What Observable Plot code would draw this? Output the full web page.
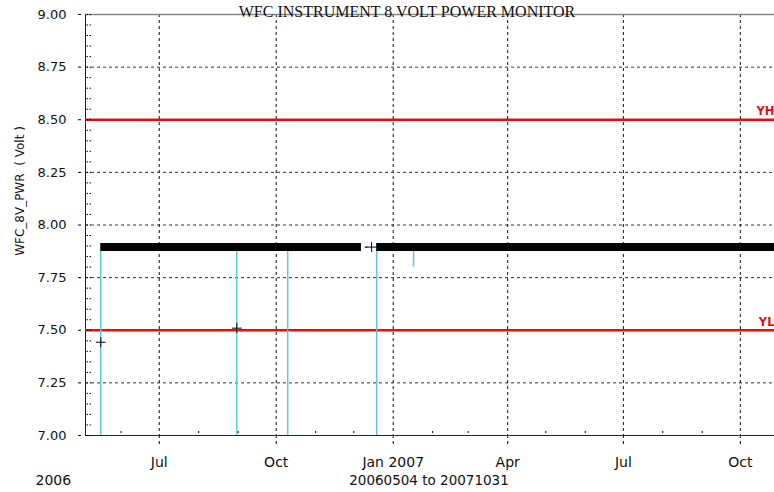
<!DOCTYPE html>
<html>
<head>
<meta charset="utf-8">
<script src="https://cdn.jsdelivr.net/npm/d3@7"></script>
<script src="https://cdn.jsdelivr.net/npm/@observablehq/plot@0.6"></script>
<style>
  html, body { margin: 0; padding: 0; background: #fff; overflow: hidden; }
  #chart svg { display: block; max-width: none !important; }
</style>
</head>
<body>
<div id="chart"></div>
<script>
// WFC 8 V power monitor, 2006-05-04 to 2007-10-31
const title = "WFC INSTRUMENT 8 VOLT POWER MONITOR";
const yLabel = "WFC_8V_PWR  ( Volt )";
const rangeLabel = "20060504 to 20071031";
const startYear = "2006";
const xStart = new Date(Date.UTC(2006, 4, 4));
const xEnd = new Date(Date.UTC(2007, 9, 31));

// axis ticks
const yTicks = [7.00, 7.25, 7.50, 7.75, 8.00, 8.25, 8.50, 8.75, 9.00];
const yGrid = [7.25, 7.75, 8.00, 8.25, 8.75];
const monthTicks = ["2006-07-01", "2006-10-01", "2007-01-01", "2007-04-01", "2007-07-01", "2007-10-01"];
const monthLabels = ["Jul", "Oct", "Jan 2007", "Apr", "Jul", "Oct"];
const minorMonths = ["2006-06-01", "2006-08-01", "2006-09-01", "2006-11-01", "2006-12-01",
  "2007-02-01", "2007-03-01", "2007-05-01", "2007-06-01", "2007-08-01", "2007-09-01"];

// yellow limits
const limitNames = ["YH", "YL"];
const limitValues = [8.50, 7.50];

// continuous readings (dense daily samples near 7.9 V)
const segStart = ["2006-05-16", "2006-12-19"];
const segEnd = ["2006-12-07", "2007-10-31"];
const segValue = [7.895, 7.895];
const stubStart = ["2006-12-10"];
const stubEnd = ["2006-12-12"];
const stubValue = [7.895];

// dropouts
const dropDates = ["2006-05-16", "2006-08-31", "2006-10-10", "2006-12-19", "2007-01-17"];
const dropLow = [7.00, 7.00, 7.00, 7.00, 7.80];
const dropHigh = [7.88, 7.88, 7.88, 7.88, 7.88];

// isolated readings
const pointDates = ["2006-05-16", "2006-08-31", "2006-12-15"];
const pointValues = [7.443, 7.51, 7.895];

const d = (s) => new Date(s + "T00:00:00Z");
const majors = monthTicks.map(d);
const labelOf = new Map(majors.map((t, i) => [+t, monthLabels[i]]));
const limits = limitNames.map((name, i) => ({name, value: limitValues[i]}));
const segments = segStart.map((s, i) => ({start: d(s), end: d(segEnd[i]), value: segValue[i]}));
const stubs = stubStart.map((s, i) => ({start: d(s), end: d(stubEnd[i]), value: stubValue[i]}));
const drops = dropDates.map((s, i) => ({date: d(s), low: dropLow[i], high: dropHigh[i]}));
const points = pointDates.map((s, i) => ({date: d(s), value: pointValues[i]}));
const minorY = d3.range(7, 9.001, 0.05);

const red = "#e01010";
const cyan = "#5ec6e4";

const chart = Plot.plot({
  width: 779,
  height: 492,
  marginTop: 14,
  marginBottom: 57,
  marginLeft: 85,
  marginRight: 1,
  style: {fontFamily: "'DejaVu Sans', sans-serif", background: "#fff", overflow: "visible", maxWidth: "none"},
  x: {type: "utc", domain: [xStart, xEnd]},
  y: {domain: [7, 9]},
  marks: [
    // grid
    Plot.gridY(yGrid, {stroke: "#333", strokeOpacity: 1, strokeDasharray: "3,3"}),
    Plot.gridX(majors, {stroke: "#111", strokeOpacity: 1, strokeDasharray: "3,3"}),
    // frame
    Plot.ruleY([9], {stroke: "#888", strokeWidth: 1.5}),
    Plot.ruleY([7], {stroke: "#222", strokeWidth: 1}),
    Plot.ruleX([xStart], {stroke: "#222", strokeWidth: 1}),
    // limits
    Plot.ruleY(limits, {y: "value", stroke: red, strokeWidth: 2.5}),
    Plot.text(limits, {y: "value", text: "name", frameAnchor: "right", textAnchor: "end",
      dx: -4, dy: -8, fill: red, fontWeight: "bold", fontSize: 11.5}),
    // data
    Plot.ruleX(drops, {x: "date", y1: "low", y2: "high", stroke: cyan, strokeWidth: 1.5}),
    Plot.ruleY(segments, {y: "value", x1: "start", x2: "end", stroke: "#000", strokeWidth: 8}),
    Plot.ruleY(stubs, {y: "value", x1: "start", x2: "end", stroke: "#000", strokeWidth: 1.2}),
    Plot.dot(points, {x: "date", y: "value", symbol: "plus", r: 3.3, stroke: "#000", strokeWidth: 1}),
    // y axis
    Plot.axisY(minorY, {tickSize: 5, dx: 6, tickFormat: () => "", strokeDasharray: "1.5,1.5", label: null}),
    Plot.axisY(yTicks, {tickSize: 3, dx: -4, tickPadding: 12, tickFormat: d3.format(".2f"),
      fontSize: 13, fill: "#111", label: null}),
    // x axis
    Plot.axisX(minorMonths.map(d), {tickSize: 2, dy: -4, tickFormat: () => "", label: null}),
    Plot.axisX(majors, {tickSize: 12, tickPadding: 10, strokeDasharray: "3,3",
      tickFormat: (t) => labelOf.get(+t), fontSize: 14, fill: "#111", label: null}),
    // texts
    Plot.text([yLabel], {frameAnchor: "left", textAnchor: "middle", rotate: -90, dx: -65, dy: -34,
      fontSize: 12, fill: "#111"}),
    Plot.text([startYear], {frameAnchor: "bottom-left", dx: -50, dy: 49, fontSize: 14, fill: "#111"}),
    Plot.text([rangeLabel], {frameAnchor: "bottom", dx: -3, dy: 49, fontSize: 13.5, fill: "#111"}),
    Plot.text([title], {frameAnchor: "top", dx: -25, dy: -9, fontSize: 16,
      fontFamily: "'Liberation Serif', serif", fill: "#111"})
  ]
});

document.getElementById("chart").append(chart);
</script>
</body>
</html>
